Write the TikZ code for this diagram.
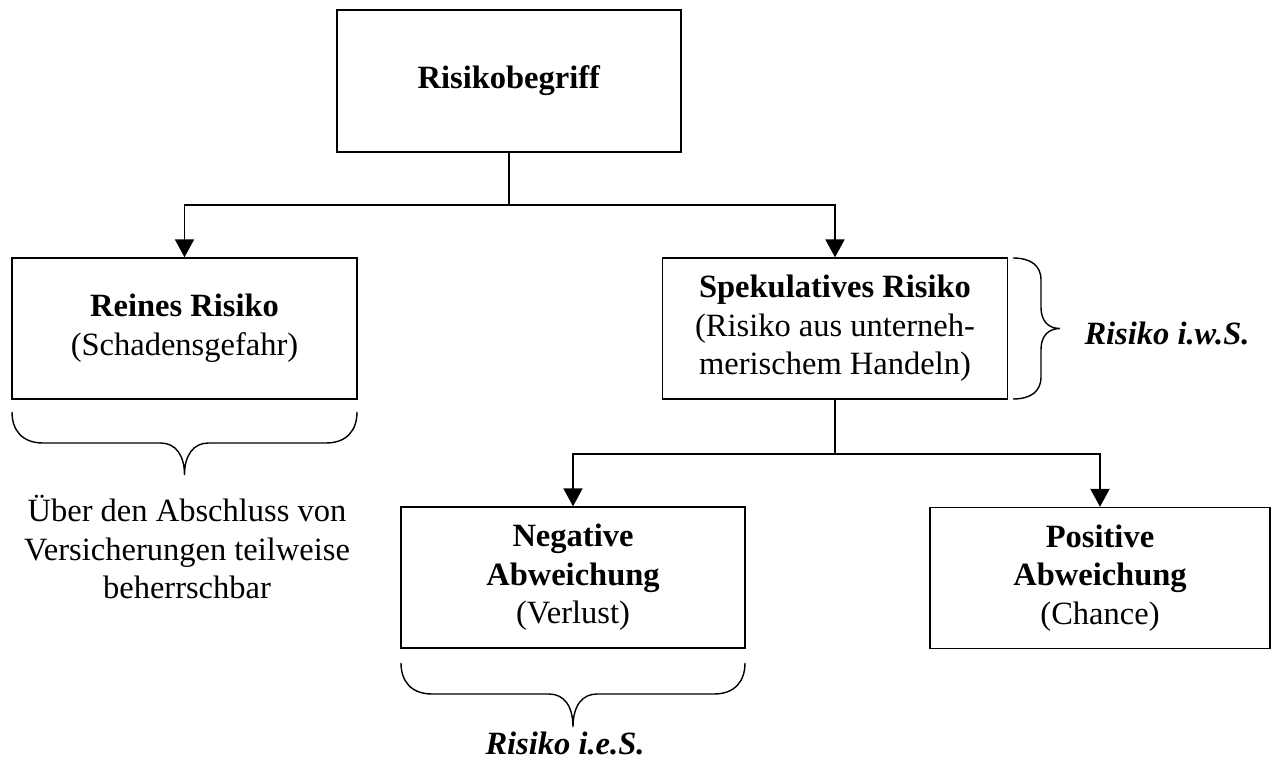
\documentclass[tikz,border=0pt]{standalone}
\usepackage{fontspec}
\setmainfont{Liberation Serif}
\usetikzlibrary{arrows.meta,positioning,calc}

\begin{document}
\begin{tikzpicture}[every node/.style={font=\fontsize{18.5}{22}\selectfont},
  box/.style={draw, line width=0.8pt, minimum width=6.9cm, minimum height=2.82cm, align=center, inner sep=0pt},
  link/.style={line width=1.1pt, -{Triangle[length=10.2pt, width=10.8pt]}},
  brc/.style={line width=0.8pt}]
  \useasboundingbox (0,0) rectangle (25.42,-15.48);

  % Top concept
  \node[box, minimum width=6.88cm, minimum height=2.84cm] (begriff) at (10.18,-1.62) {\textbf{Risikobegriff}};

  % Second level
  \node[box] (rein) at (3.69,-6.57) {\textbf{Reines Risiko}\\(Schadensgefahr)};
  \node[box] (spek) at (16.70,-6.57) {\textbf{Spekulatives Risiko}\\(Risiko aus unterneh-\\merischem Handeln)};

  % Third level
  \node[box, minimum width=6.88cm] (neg) at (11.46,-11.55) {\textbf{Negative}\\\textbf{Abweichung}\\(Verlust)};
  \node[box, minimum width=6.8cm] (pos) at (22.0,-11.56) {\textbf{Positive}\\\textbf{Abweichung}\\(Chance)};

  % Connectors
  \draw[link] (begriff.south) -- ++(0,-1.04) -| (rein.north);
  \draw[link] (begriff.south) -- ++(0,-1.04) -| (spek.north);
  \draw[link] (spek.south) -- ++(0,-1.08) -| (neg.north);
  \draw[link] (spek.south) -- ++(0,-1.08) -| (pos.north);

  % Braces
  \draw[brc] (0.24,-8.24) .. controls (0.24,-8.60) and (0.44,-8.86) .. (0.86,-8.86) -- (3.21,-8.86)
    .. controls (3.51,-8.86) and (3.69,-9.10) .. (3.69,-9.50)
    .. controls (3.69,-9.10) and (3.87,-8.86) .. (4.17,-8.86) -- (6.52,-8.86)
    .. controls (6.94,-8.86) and (7.14,-8.60) .. (7.14,-8.24);
  \draw[brc] (8.02,-13.26) .. controls (8.02,-13.62) and (8.22,-13.88) .. (8.64,-13.88) -- (10.98,-13.88)
    .. controls (11.28,-13.88) and (11.46,-14.12) .. (11.46,-14.54)
    .. controls (11.46,-14.12) and (11.64,-13.88) .. (11.94,-13.88) -- (14.28,-13.88)
    .. controls (14.70,-13.88) and (14.90,-13.62) .. (14.90,-13.26);
  \draw[brc] (20.26,-5.16) .. controls (20.60,-5.16) and (20.82,-5.30) .. (20.82,-5.60) -- (20.82,-6.15)
    .. controls (20.82,-6.40) and (20.95,-6.57) .. (21.20,-6.57)
    .. controls (20.95,-6.57) and (20.82,-6.74) .. (20.82,-6.99) -- (20.82,-7.54)
    .. controls (20.82,-7.84) and (20.60,-7.98) .. (20.26,-7.98);

  % Labels
  \node[align=center] (ueber) at (3.74,-10.94) {Über den Abschluss von\\Versicherungen teilweise\\beherrschbar};
  \node (ies) at (11.3,-14.86) {\textbf{\textit{Risiko i.e.S.}}};
  \node (iws) at (23.34,-6.66) {\textbf{\textit{Risiko i.w.S.}}};
\end{tikzpicture}
\end{document}
